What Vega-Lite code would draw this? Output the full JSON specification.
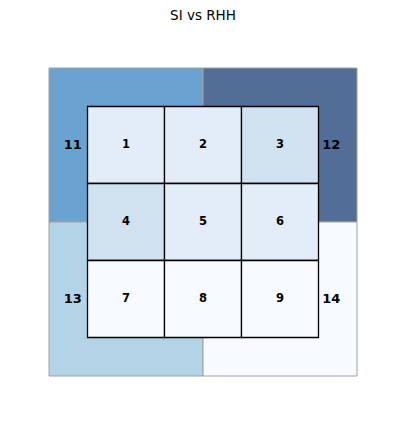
{
  "$schema": "https://vega.github.io/schema/vega-lite/v6.json",
  "width": 308,
  "height": 308,
  "autosize": "none",
  "padding": {"left": 49, "top": 68, "right": 47, "bottom": 48},
  "background": "white",
  "title": {"text": "SI vs RHH", "font": "DejaVu Sans", "fontSize": 13.5, "fontWeight": "normal", "color": "black", "offset": 45, "anchor": "middle"},
  "config": {"view": {"stroke": null}},
  "datasets": {
    "big": [
      {"id": "11", "x0": 0, "x1": 4, "y0": 0, "y1": 4, "lx": 0.62, "ly": 2},
      {"id": "12", "x0": 4, "x1": 8, "y0": 0, "y1": 4, "lx": 7.33, "ly": 2},
      {"id": "13", "x0": 0, "x1": 4, "y0": 4, "y1": 8, "lx": 0.62, "ly": 6},
      {"id": "14", "x0": 4, "x1": 8, "y0": 4, "y1": 8, "lx": 7.33, "ly": 6}
    ],
    "small": [
      {"id": "1", "x0": 1, "x1": 3, "y0": 1, "y1": 3, "cx": 2, "cy": 2},
      {"id": "2", "x0": 3, "x1": 5, "y0": 1, "y1": 3, "cx": 4, "cy": 2},
      {"id": "3", "x0": 5, "x1": 7, "y0": 1, "y1": 3, "cx": 6, "cy": 2},
      {"id": "4", "x0": 1, "x1": 3, "y0": 3, "y1": 5, "cx": 2, "cy": 4},
      {"id": "5", "x0": 3, "x1": 5, "y0": 3, "y1": 5, "cx": 4, "cy": 4},
      {"id": "6", "x0": 5, "x1": 7, "y0": 3, "y1": 5, "cx": 6, "cy": 4},
      {"id": "7", "x0": 1, "x1": 3, "y0": 5, "y1": 7, "cx": 2, "cy": 6},
      {"id": "8", "x0": 3, "x1": 5, "y0": 5, "y1": 7, "cx": 4, "cy": 6},
      {"id": "9", "x0": 5, "x1": 7, "y0": 5, "y1": 7, "cx": 6, "cy": 6}
    ]
  },
  "layer": [
    {
      "data": {"name": "big"},
      "mark": {"type": "rect", "stroke": "#a0a0a0", "strokeWidth": 1},
      "encoding": {
        "x": {"field": "x0", "type": "quantitative", "scale": {"domain": [0, 8], "nice": false, "zero": false}, "axis": null},
        "x2": {"field": "x1"},
        "y": {"field": "y0", "type": "quantitative", "scale": {"domain": [0, 8], "nice": false, "zero": false, "reverse": true}, "axis": null},
        "y2": {"field": "y1"},
        "color": {"field": "id", "type": "nominal", "legend": null, "scale": {"domain": ["11", "12", "13", "14"], "range": ["#6aa3d0", "#526d96", "#b3d4e6", "#f7fbff"]}}
      }
    },
    {
      "data": {"name": "big"},
      "mark": {"type": "text", "font": "DejaVu Sans", "fontWeight": "bold", "fontSize": 13, "color": "black"},
      "encoding": {
        "x": {"field": "lx", "type": "quantitative"},
        "y": {"field": "ly", "type": "quantitative"},
        "text": {"field": "id"}
      }
    },
    {
      "data": {"name": "small"},
      "mark": {"type": "rect", "stroke": "black", "strokeWidth": 1.3},
      "encoding": {
        "x": {"field": "x0", "type": "quantitative"},
        "x2": {"field": "x1"},
        "y": {"field": "y0", "type": "quantitative"},
        "y2": {"field": "y1"},
        "fill": {"field": "id", "type": "nominal", "legend": null, "scale": {"domain": ["1","2","3","4","5","6","7","8","9"], "range": ["#e2edf7", "#e2edf7", "#d0e1f0", "#d0e1f0", "#e2edf7", "#e2edf7", "#f7fbff", "#f7fbff", "#f7fbff"]}}
      }
    },
    {
      "data": {"name": "small"},
      "mark": {"type": "text", "font": "DejaVu Sans", "fontWeight": "bold", "fontSize": 11.5, "color": "black"},
      "encoding": {
        "x": {"field": "cx", "type": "quantitative"},
        "y": {"field": "cy", "type": "quantitative"},
        "text": {"field": "id"}
      }
    }
  ],
  "resolve": {"scale": {"color": "independent"}}
}
